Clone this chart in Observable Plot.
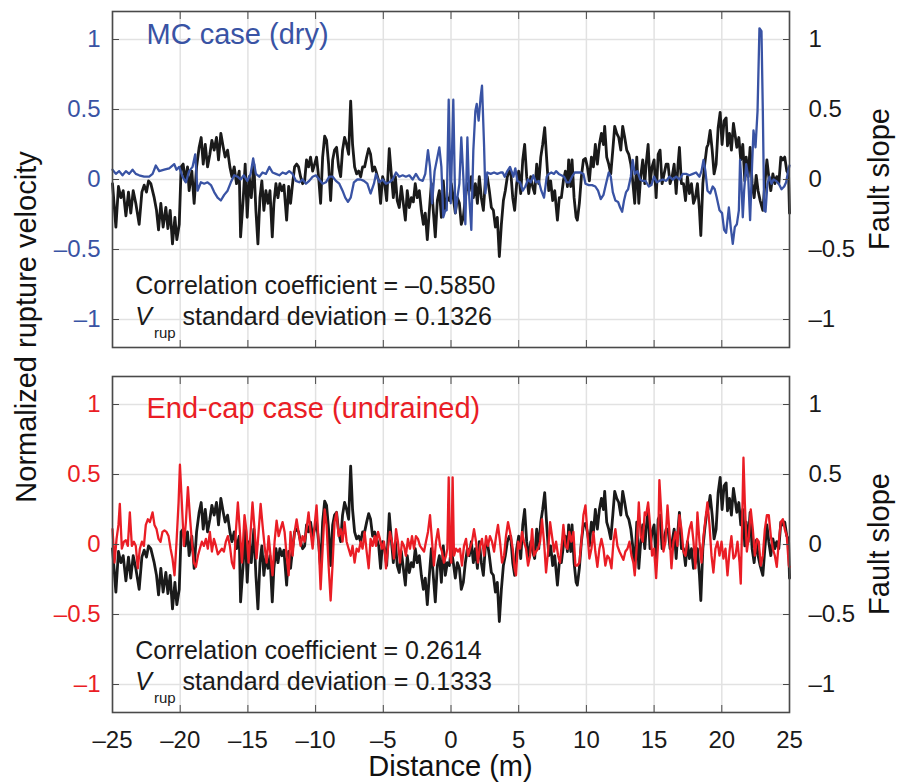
<!DOCTYPE html>
<html>
<head>
<meta charset="utf-8">
<script src="https://cdn.jsdelivr.net/npm/d3@7"></script>
<script src="https://cdn.jsdelivr.net/npm/@observablehq/plot@0.6"></script>
<style>
  body { margin: 0; background: #fff; }
  #fig { position: relative; width: 899px; height: 783px; font-family: "Liberation Sans", Arial, Helvetica, sans-serif; }
  #fig > svg { position: absolute; left: 0; }
</style>
</head>
<body>
<div id="fig"></div>
<script>
// Fault slope along strike (right axis, shared by both panels)
const faultSlope = [[-25.00,-0.03],[-24.75,-0.34],[-24.56,-0.05],[-24.38,-0.13],[-24.21,-0.08],[-24.01,-0.26],[-23.82,-0.09],[-23.65,-0.24],[-23.47,-0.08],[-23.28,-0.17],[-23.03,-0.32],[-22.83,-0.09],[-22.66,-0.04],[-22.49,-0.09],[-22.34,-0.01],[-22.17,-0.03],[-21.92,-0.13],[-21.75,-0.22],[-21.60,-0.36],[-21.43,-0.17],[-21.26,-0.34],[-21.06,-0.20],[-20.91,-0.35],[-20.74,-0.22],[-20.57,-0.46],[-20.39,-0.27],[-20.25,-0.43],[-20.07,-0.32],[-19.93,0.09],[-19.78,0.11],[-19.63,-0.01],[-19.46,0.09],[-19.34,-0.08],[-19.14,0.06],[-18.97,-0.17],[-18.79,0.09],[-18.60,0.23],[-18.45,0.30],[-18.30,0.11],[-18.15,0.25],[-17.98,0.09],[-17.81,0.18],[-17.66,0.28],[-17.49,0.21],[-17.32,0.30],[-17.17,0.14],[-17.00,0.33],[-16.82,0.23],[-16.68,0.16],[-16.50,0.21],[-16.33,0.09],[-16.18,0.02],[-16.01,0.09],[-15.84,-0.03],[-15.64,0.06],
[-15.54,-0.41],[-15.34,-0.13],[-15.20,0.11],[-15.05,-0.27],[-14.90,0.02],[-14.75,-0.13],[-14.56,0.11],[-14.41,-0.22],[-14.26,-0.46],[-14.11,-0.13],[-13.97,-0.01],[-13.82,-0.22],[-13.67,-0.08],[-13.52,-0.17],[-13.37,-0.08],[-13.20,-0.41],[-13.08,-0.17],[-12.93,-0.03],[-12.78,-0.13],[-12.64,-0.03],[-12.49,-0.08],[-12.34,-0.04],[-12.14,-0.29],[-11.99,-0.05],[-11.85,-0.17],[-11.70,-0.03],[-11.55,0.09],[-11.40,0.11],[-11.26,0.09],[-11.11,0.02],[-10.96,-0.03],[-10.81,-0.01],[-10.67,0.14],[-10.52,0.09],[-10.37,0.16],[-10.22,0.06],[-10.07,0.11],[-9.93,0.16],[-9.78,0.02],[-9.63,-0.17],[-9.48,0.16],[-9.33,0.31],[-9.19,0.28],[-9.04,0.11],[-8.89,-0.15],[-8.74,0.14],[-8.60,0.21],[-8.45,0.23],[-8.30,0.09],[-8.15,0.02],[-8.01,0.21],[-7.86,0.30],[-7.71,0.25],[-7.56,0.18],[-7.41,0.56],[-7.27,0.25],[-7.12,0.09],[-6.97,0.04],[-6.82,0.06],[-6.67,0.02],[-6.53,0.09],[-6.38,0.09],[-6.23,0.16],[-6.08,0.22],[-5.94,0.18],[-5.79,0.06],[-5.64,0.09],
[-5.54,0.06],[-5.34,-0.01],[-5.20,-0.17],[-5.05,0.02],[-4.90,-0.03],[-4.75,-0.15],[-4.56,0.22],[-4.41,0.04],[-4.26,-0.13],[-4.11,0.02],[-3.97,-0.15],[-3.82,-0.20],[-3.67,-0.05],[-3.52,-0.17],[-3.37,-0.29],[-3.23,-0.08],[-3.08,-0.20],[-2.93,-0.13],[-2.78,-0.16],[-2.64,-0.03],[-2.49,-0.13],[-2.34,-0.08],[-2.19,-0.22],[-2.04,-0.32],[-1.90,-0.24],[-1.75,-0.43],[-1.60,-0.22],[-1.45,-0.03],[-1.31,-0.22],[-1.16,-0.41],[-1.01,-0.15],[-0.86,-0.08],[-0.71,-0.27],[-0.57,-0.01],[-0.42,-0.22],[-0.27,-0.13],[-0.12,-0.15],[0.02,-0.03],[0.17,-0.13],[0.32,-0.24],[0.47,-0.13],[0.62,-0.17],[0.76,-0.32],[0.91,-0.27],[1.06,-0.13],[1.21,-0.03],[1.35,-0.08],[1.50,0.02],[1.65,-0.13],[1.80,-0.03],[1.95,-0.17],[2.09,0.02],[2.24,-0.13],[2.39,-0.22],[2.54,-0.01],[2.68,0.02],[2.83,-0.08],[2.98,-0.20],[3.13,-0.22],[3.28,-0.34],[3.42,-0.27],[3.57,-0.55],[3.72,-0.32],[3.87,-0.15],[4.01,-0.08],[4.16,0.02],[4.31,0.06],
[4.41,0.06],[4.56,-0.13],[4.70,-0.22],[4.85,-0.03],[5.00,0.06],[5.15,-0.10],[5.30,0.14],[5.44,0.25],[5.59,0.02],[5.74,-0.10],[5.89,0.02],[6.03,-0.05],[6.18,-0.10],[6.33,0.11],[6.48,-0.03],[6.63,0.16],[6.77,0.25],[6.92,0.37],[7.07,0.14],[7.22,-0.08],[7.36,-0.01],[7.51,-0.15],[7.66,-0.08],[7.86,-0.29],[8.00,-0.13],[8.15,-0.13],[8.30,-0.01],[8.45,0.06],[8.60,-0.05],[8.69,0.14],[8.84,-0.05],[8.94,0.14],[9.09,-0.13],[9.24,-0.27],[9.33,-0.29],[9.48,-0.17],[9.63,0.02],[9.78,0.14],[9.93,0.15],[10.07,0.09],[10.22,-0.01],[10.37,0.16],[10.52,0.09],[10.66,0.25],[10.81,0.11],[10.96,0.25],[11.11,0.33],[11.26,0.25],[11.35,0.38],[11.50,0.16],[11.65,0.11],[11.80,0.04],[11.95,0.21],[12.09,0.38],[12.24,0.33],[12.39,0.30],[12.54,0.21],[12.68,0.38],[12.83,0.30],[12.98,0.21],[13.13,0.18],[13.28,0.11],[13.42,-0.01],[13.57,-0.17],[13.72,0.16],[13.87,-0.17],[14.01,0.02],[14.16,0.14],[14.31,-0.03],
[14.41,0.11],[14.56,0.25],[14.70,-0.03],[14.85,0.09],[15.00,0.14],[15.15,-0.13],[15.30,0.18],[15.44,0.21],[15.59,-0.03],[15.74,0.04],[15.89,0.11],[16.03,0.11],[16.18,-0.03],[16.33,0.02],[16.48,0.11],[16.63,-0.10],[16.77,0.11],[16.87,0.23],[17.02,-0.03],[17.17,-0.03],[17.32,-0.15],[17.46,0.02],[17.61,-0.10],[17.76,-0.03],[17.91,-0.17],[18.05,-0.13],[18.20,-0.03],[18.35,-0.22],[18.45,-0.40],[18.60,-0.03],[18.74,0.11],[18.89,0.23],[18.99,0.25],[19.14,0.35],[19.29,0.21],[19.43,0.04],[19.58,0.11],[19.73,0.37],[19.88,0.48],[20.02,0.25],[20.17,0.42],[20.32,0.44],[20.42,0.24],[20.57,0.33],[20.71,0.21],[20.86,0.40],[21.01,0.30],[21.11,0.23],[21.26,0.30],[21.40,0.14],[21.55,0.25],[21.70,-0.01],[21.80,0.16],[21.95,0.02],[22.09,0.23],[22.24,-0.03],[22.39,-0.13],[22.54,0.03],[22.68,-0.08],[22.83,-0.15],[23.03,-0.22],[23.18,-0.03],[23.33,0.14],[23.47,0.02],[23.62,-0.08],[23.77,0.04],[23.92,-0.03],[24.06,0.02],[24.21,-0.03],[24.36,0.16],[24.51,0.14],[24.65,0.16],[24.80,0.06],[24.93,0.04],[25.00,-0.24]];

// Normalized rupture velocity, MC case (dry)
const mcCase = [[-25.00,0.07],[-24.75,0.04],[-24.51,0.06],[-24.26,0.03],[-24.01,0.06],[-23.77,0.04],[-23.52,0.07],[-23.28,0.04],[-23.03,0.03],[-22.66,0.02],[-22.29,0.02],[-22.04,0.04],[-21.80,0.10],[-21.55,0.06],[-21.18,0.07],[-20.81,0.08],[-20.44,0.11],[-20.27,0.07],[-20.07,0.09],[-19.83,0.02],[-19.58,-0.02],[-19.34,0.06],[-19.09,0.09],[-18.89,0.18],[-18.72,-0.08],[-18.47,-0.02],[-18.23,-0.03],[-17.98,-0.02],[-17.73,-0.04],[-17.49,-0.09],[-17.24,-0.13],[-17.00,-0.15],[-16.75,-0.11],[-16.50,-0.08],[-16.26,-0.02],[-16.01,0.03],[-15.76,0.02],
[-15.54,0.00],[-15.30,0.03],[-15.05,-0.01],[-14.80,0.04],[-14.61,0.15],[-14.41,0.04],[-14.16,0.02],[-13.92,0.05],[-13.67,0.04],[-13.42,0.09],[-13.18,0.05],[-12.93,0.04],[-12.68,0.03],[-12.44,0.05],[-12.19,0.04],[-11.95,0.06],[-11.70,0.04],[-11.45,-0.01],[-11.21,-0.02],[-10.96,0.00],[-10.71,-0.03],[-10.47,-0.01],[-10.22,0.02],[-9.98,0.03],[-9.73,0.00],[-9.48,-0.03],[-9.24,-0.02],[-8.99,0.02],[-8.74,0.02],[-8.50,-0.01],[-8.25,-0.03],[-8.01,-0.08],[-7.81,-0.13],[-7.61,-0.16],[-7.41,-0.13],[-7.17,-0.02],[-6.92,0.00],[-6.67,0.00],[-6.43,-0.01],[-6.18,-0.03],[-5.94,-0.10],[-5.69,-0.03],
[-5.54,0.04],[-5.30,-0.02],[-5.05,0.00],[-4.80,-0.03],[-4.56,-0.02],[-4.31,0.00],[-4.06,0.05],[-3.82,0.02],[-3.57,0.03],[-3.33,0.02],[-3.08,0.03],[-2.83,0.00],[-2.59,0.04],[-2.34,0.00],[-2.09,-0.01],[-1.90,0.04],[-1.70,0.21],[-1.55,0.09],[-1.40,-0.17],[-1.21,0.06],[-0.86,0.23],[-0.71,0.09],[-0.57,-0.27],[-0.42,-0.22],[-0.32,-0.22],[-0.17,0.57],[-0.02,-0.17],[0.17,0.57],[0.32,-0.24],[0.47,-0.13],[0.62,-0.03],[0.76,0.30],[0.91,0.02],[1.06,-0.32],[1.21,0.30],[1.35,-0.13],[1.50,-0.36],[1.65,0.21],[1.80,0.49],[1.90,0.54],[2.04,0.42],[2.19,0.59],[2.29,0.67],[2.44,0.25],[2.54,-0.10],[2.68,0.05],[2.93,0.04],[3.18,0.05],[3.42,0.04],[3.67,0.05],[3.82,0.05],[3.97,0.02],[4.16,0.06],[4.36,0.09],
[4.61,0.02],[4.75,0.08],[4.90,-0.01],[5.10,-0.02],[5.30,-0.08],[5.49,-0.05],[5.69,0.00],[5.89,-0.02],[6.08,0.03],[6.28,-0.02],[6.48,-0.01],[6.67,-0.08],[6.87,-0.13],[7.07,0.02],[7.22,0.04],[7.41,0.05],[7.61,0.04],[7.76,0.06],[7.96,0.04],[8.15,0.03],[8.35,0.02],[8.55,-0.02],[8.74,-0.02],[8.94,0.02],[9.14,0.05],[9.33,0.05],[9.58,0.05],[9.78,0.04],[9.93,-0.03],[10.17,-0.04],[10.42,-0.04],[10.66,-0.05],[10.86,-0.08],[11.06,-0.14],[11.26,-0.11],[11.45,-0.03],[11.65,0.05],[11.80,0.02],[11.95,-0.09],[12.14,-0.15],[12.34,-0.16],[12.49,-0.20],[12.64,-0.23],[12.78,-0.15],[12.93,-0.09],[13.08,-0.07],[13.28,0.02],[13.42,0.14],[13.57,0.04],[13.77,0.06],[13.97,0.00],[14.16,-0.01],[14.36,-0.01],
[14.61,-0.05],[14.80,-0.04],[15.00,0.02],[15.20,-0.02],[15.39,-0.01],[15.64,0.00],[15.89,-0.01],[16.13,0.02],[16.38,0.00],[16.63,0.02],[16.87,0.00],[17.12,0.04],[17.36,0.04],[17.61,0.03],[17.86,0.04],[18.10,0.05],[18.35,0.02],[18.50,0.06],[18.65,0.14],[18.79,0.06],[18.94,-0.08],[19.14,-0.10],[19.33,-0.05],[19.48,-0.07],[19.63,-0.13],[19.83,-0.22],[20.02,-0.24],[20.17,-0.36],[20.32,-0.38],[20.52,-0.20],[20.66,-0.34],[20.81,-0.46],[20.96,-0.34],[21.11,-0.32],[21.26,-0.22],[21.35,0.14],[21.45,-0.03],[21.55,-0.27],[21.65,-0.08],[21.80,0.11],[21.95,0.02],[22.09,-0.29],[22.24,0.11],[22.34,0.35],[22.49,0.23],[22.64,0.49],[22.78,1.08],[22.93,1.06],[23.03,0.49],[23.13,-0.22],[23.23,-0.23],[23.37,-0.03],[23.52,0.02],[23.67,-0.03],[23.82,0.00],[24.01,-0.01],[24.21,-0.03],[24.41,-0.07],[24.61,-0.05],[24.75,-0.02],[24.90,0.06],[25.00,0.10]];

// Normalized rupture velocity, end-cap case (undrained)
const endCap = [[-25.00,0.11],[-24.85,-0.13],[-24.70,0.04],[-24.56,0.14],[-24.46,0.29],[-24.31,-0.03],[-24.16,0.02],[-24.01,0.03],[-23.87,-0.01],[-23.72,0.23],[-23.57,-0.01],[-23.42,0.02],[-23.28,-0.01],[-23.13,-0.17],[-22.98,-0.03],[-22.83,0.02],[-22.68,-0.01],[-22.54,0.14],[-22.39,0.18],[-22.24,0.16],[-22.04,0.23],[-21.90,0.14],[-21.75,0.11],[-21.60,0.04],[-21.45,0.02],[-21.31,0.09],[-21.16,0.10],[-21.01,0.09],[-20.86,0.06],[-20.71,-0.03],[-20.57,-0.10],[-20.42,-0.22],[-20.27,0.02],[-20.12,0.30],[-20.02,0.57],[-19.88,0.30],[-19.73,-0.01],[-19.58,0.16],[-19.43,0.41],[-19.29,0.21],[-19.14,0.02],[-18.99,-0.13],[-18.84,-0.16],[-18.69,-0.08],[-18.55,-0.03],[-18.40,0.02],[-18.25,-0.01],[-18.10,0.04],[-17.96,-0.03],[-17.81,0.09],[-17.66,-0.05],[-17.51,0.04],[-17.36,-0.01],[-17.22,-0.07],[-17.07,-0.05],[-16.92,-0.03],[-16.77,-0.05],[-16.63,0.02],[-16.48,0.06],[-16.33,-0.01],[-16.18,-0.13],[-16.03,-0.17],[-15.89,0.09],[-15.74,0.30],[-15.59,0.09],[-15.44,-0.13],
[-15.25,0.21],[-15.10,0.09],[-14.95,-0.13],[-14.80,0.09],[-14.66,0.30],[-14.51,0.11],[-14.36,-0.10],[-14.21,0.09],[-14.06,0.29],[-13.92,0.14],[-13.77,-0.01],[-13.62,-0.13],[-13.47,0.06],[-13.33,-0.08],[-13.18,-0.22],[-13.03,0.02],[-12.88,0.17],[-12.73,0.06],[-12.59,0.11],[-12.44,0.16],[-12.29,0.09],[-12.14,-0.08],[-11.99,-0.22],[-11.85,0.09],[-11.70,-0.08],[-11.55,0.09],[-11.40,0.18],[-11.26,0.09],[-11.11,-0.01],[-10.96,0.06],[-10.81,0.02],[-10.67,0.11],[-10.52,0.23],[-10.37,0.09],[-10.22,-0.03],[-10.07,0.14],[-9.93,0.28],[-9.78,0.02],[-9.63,-0.32],[-9.48,-0.03],[-9.33,0.25],[-9.19,0.14],[-9.04,-0.15],[-8.89,-0.40],[-8.74,-0.13],[-8.60,0.16],[-8.45,0.23],[-8.30,0.06],[-8.15,0.11],[-8.01,0.02],[-7.86,0.16],[-7.71,0.02],[-7.56,-0.03],[-7.41,-0.08],[-7.27,-0.01],[-7.12,-0.13],[-6.97,-0.03],[-6.82,-0.05],[-6.67,0.02],[-6.53,-0.03],[-6.38,0.09],[-6.23,-0.05],[-6.08,-0.17],[-5.94,0.04],[-5.79,-0.01],[-5.64,0.06],
[-5.54,-0.01],[-5.39,0.09],[-5.25,0.04],[-5.10,-0.03],[-4.95,0.02],[-4.80,-0.17],[-4.66,-0.03],[-4.51,0.09],[-4.36,0.02],[-4.21,-0.10],[-4.06,0.11],[-3.92,0.02],[-3.77,-0.13],[-3.62,0.02],[-3.47,-0.01],[-3.33,-0.08],[-3.18,0.04],[-3.03,-0.03],[-2.88,0.06],[-2.73,-0.03],[-2.59,0.06],[-2.44,0.04],[-2.29,-0.01],[-2.14,-0.03],[-1.99,-0.05],[-1.85,0.02],[-1.70,0.09],[-1.55,0.21],[-1.40,0.02],[-1.26,-0.15],[-1.11,0.02],[-0.96,0.11],[-0.81,-0.01],[-0.67,-0.05],[-0.52,-0.13],[-0.37,-0.08],[-0.27,-0.03],[-0.17,0.48],[-0.07,-0.08],[0.02,-0.13],[0.12,0.48],[0.22,-0.08],[0.37,-0.03],[0.52,-0.05],[0.66,-0.03],[0.81,-0.15],[0.96,-0.01],[1.11,0.04],[1.26,-0.08],[1.40,-0.03],[1.55,0.02],[1.70,0.11],[1.85,0.02],[1.99,-0.13],[2.14,-0.01],[2.29,0.04],[2.44,-0.08],[2.59,0.06],[2.73,-0.01],[2.88,0.06],[3.03,0.02],[3.18,-0.05],[3.33,0.06],[3.47,0.14],[3.62,0.02],[3.77,-0.13],[3.92,-0.08],[4.06,0.06],[4.21,0.16],[4.36,0.09],
[4.56,-0.03],[4.70,-0.17],[4.80,-0.22],[4.95,0.02],[5.10,-0.03],[5.25,0.09],[5.39,0.02],[5.54,-0.03],[5.69,-0.15],[5.84,-0.08],[5.99,0.11],[6.13,-0.08],[6.28,-0.05],[6.43,-0.03],[6.58,0.02],[6.72,0.18],[6.87,0.02],[7.02,-0.20],[7.17,-0.05],[7.32,0.16],[7.46,0.06],[7.61,-0.05],[7.76,0.02],[7.91,-0.08],[8.05,-0.13],[8.20,0.02],[8.30,0.14],[8.45,-0.01],[8.60,-0.03],[8.74,0.09],[8.89,0.02],[9.04,0.09],[9.19,-0.15],[9.33,-0.15],[9.48,-0.13],[9.63,0.02],[9.78,0.21],[9.93,0.28],[10.07,0.09],[10.22,-0.10],[10.37,-0.03],[10.52,0.09],[10.66,-0.05],[10.81,-0.16],[10.96,-0.03],[11.11,0.04],[11.26,-0.03],[11.40,-0.15],[11.55,-0.08],[11.70,-0.10],[11.85,-0.17],[12.00,0.02],[12.14,0.11],[12.29,-0.01],[12.44,-0.05],[12.59,-0.08],[12.73,-0.11],[12.88,-0.05],[13.03,-0.03],[13.18,0.02],[13.33,-0.08],[13.47,-0.13],[13.57,-0.22],[13.72,-0.01],[13.87,0.30],[14.01,0.06],[14.16,0.02],[14.31,0.23],
[14.41,0.21],[14.56,0.30],[14.70,0.14],[14.85,-0.08],[15.00,-0.03],[15.15,-0.24],[15.30,0.02],[15.39,0.46],[15.54,0.21],[15.69,-0.05],[15.84,0.02],[15.99,0.28],[16.13,0.09],[16.28,-0.17],[16.43,0.02],[16.58,0.09],[16.72,-0.01],[16.87,0.21],[17.02,0.11],[17.17,-0.05],[17.32,-0.08],[17.46,0.02],[17.61,0.11],[17.76,0.16],[17.91,0.02],[18.05,-0.17],[18.20,0.23],[18.35,0.02],[18.50,-0.13],[18.65,0.06],[18.79,0.18],[18.94,0.30],[19.09,0.14],[19.24,-0.08],[19.38,-0.20],[19.53,-0.03],[19.68,0.02],[19.83,-0.08],[19.98,0.02],[20.12,-0.10],[20.27,-0.03],[20.42,-0.22],[20.57,-0.05],[20.71,0.06],[20.86,-0.10],[21.01,-0.08],[21.16,0.02],[21.31,-0.13],[21.40,-0.28],[21.50,0.14],[21.60,0.62],[21.70,0.30],[21.85,-0.05],[22.00,0.06],[22.14,0.25],[22.29,0.11],[22.44,-0.08],[22.59,0.04],[22.73,0.02],[22.88,-0.15],[23.03,-0.08],[23.18,0.11],[23.33,0.21],[23.47,0.21],[23.62,0.06],[23.77,-0.03],[23.92,-0.08],[24.06,-0.16],[24.21,0.02],[24.36,0.16],[24.51,0.18],[24.65,0.11],[24.80,0.06],[24.95,-0.15],[25.00,-0.16]];

// Axis ticks
const distanceTicks = [-25, -20, -15, -10, -5, 0, 5, 10, 15, 20, 25];
const valueTicks = [-1, -0.5, 0, 0.5, 1];

// Panel texts
const panelTitles = ["MC case (dry)", "End-cap case (undrained)"];
const panelColors = ["#3953a4", "#ea1d25"];
const correlations = ["\u20130.5850", "0.2614"];
const vrupStd = ["0.1326", "0.1333"];

const FONT = '"Liberation Sans", Arial, Helvetica, sans-serif';
const fmt = d => (d < 0 ? "\u2013" : "") + Math.abs(d);
const noLabel = () => "";
const GRID = "#e2e2e2";
const AXIS = "#4a4a4a";

function panel(i, {top, height, marginBottom, showDistance}) {
  const color = panelColors[i];
  const series = [faultSlope, i === 0 ? mcCase : endCap];
  const chart = Plot.plot({
    width: 899,
    height,
    marginLeft: 112,
    marginRight: 110,
    marginTop: 11,
    marginBottom,
    style: {fontFamily: FONT, fontSize: "24px", background: "transparent", overflow: "visible", color: "#1a1a1a"},
    x: {domain: [-25, 25]},
    y: {domain: [-1.2, 1.2]},
    marks: [
      Plot.gridX(distanceTicks, {stroke: GRID, strokeOpacity: 1, strokeWidth: 1.5}),
      Plot.gridY(valueTicks, {stroke: GRID, strokeOpacity: 1, strokeWidth: 1.5}),
      Plot.line(series[0], {x: d => d[0], y: d => d[1], stroke: "#1a1a1a", strokeWidth: 2.8, strokeLinejoin: "round"}),
      Plot.line(series[1], {x: d => d[0], y: d => d[1], stroke: color, strokeWidth: 2.3, strokeLinejoin: "round"}),
      Plot.frame({stroke: AXIS, strokeWidth: 1.6}),
      Plot.axisY(valueTicks, {anchor: "left", tickSize: -7, tickPadding: 19, tickFormat: fmt, fill: color, stroke: AXIS, label: null}),
      Plot.axisY(valueTicks, {anchor: "right", tickSize: -7, tickPadding: 26, tickFormat: fmt, fill: "#1a1a1a", stroke: AXIS, label: null}),
      Plot.axisX(distanceTicks, {anchor: "top", tickSize: -7, tickFormat: noLabel, stroke: AXIS, label: null}),
      Plot.axisX(distanceTicks, {anchor: "bottom", tickSize: -7, tickPadding: 25, tickFormat: showDistance ? fmt : noLabel, fill: "#1a1a1a", stroke: AXIS, label: null})
    ]
  });
  chart.style.top = top + "px";
  const x = chart.scale("x"), y = chart.scale("y");
  const svg = d3.select(chart);
  const notes = svg.append("g").attr("text-anchor", "start");

  // Panel title
  notes.append("text")
    .attr("x", x.apply(-22.45)).attr("y", y.apply(i === 0 ? 0.965 : 0.9))
    .attr("fill", color).attr("font-size", 29)
    .text(panelTitles[i]);

  // Statistics
  const ax = x.apply(-23.28);
  notes.append("text")
    .attr("x", ax).attr("y", y.apply(-0.82))
    .attr("fill", "#1a1a1a").attr("font-size", 25)
    .text("Correlation coefficient = " + correlations[i]);
  const t = notes.append("text")
    .attr("x", ax).attr("y", y.apply(-1.045))
    .attr("fill", "#1a1a1a").attr("font-size", 25);
  t.append("tspan").attr("font-style", "italic").text("V");
  t.append("tspan").attr("font-size", 15).attr("dy", 13).attr("dx", 2).text("rup");
  t.append("tspan").attr("dy", -13).text(" standard deviation = " + vrupStd[i]);

  // Right axis label
  svg.append("text")
    .attr("transform", `translate(889,${y.apply(0)}) rotate(-90)`)
    .attr("text-anchor", "middle").attr("fill", "#111").attr("font-size", 29)
    .text("Fault slope");

  if (showDistance) {
    svg.append("text")
      .attr("x", (112 + 789) / 2).attr("y", height - 7)
      .attr("text-anchor", "middle").attr("fill", "#111").attr("font-size", 29)
      .text("Distance (m)");
  }
  return chart;
}

const fig = document.getElementById("fig");
fig.append(panel(0, {top: 0, height: 365, marginBottom: 18, showDistance: false}));
fig.append(panel(1, {top: 365, height: 418, marginBottom: 71, showDistance: true}));

// Shared left axis label
const overlay = d3.select(fig).append("svg")
  .attr("width", 899).attr("height", 783)
  .style("top", "0px").style("pointer-events", "none")
  .style("font-family", FONT);
overlay.append("text")
  .attr("transform", "translate(36,327) rotate(-90)")
  .attr("text-anchor", "middle").attr("fill", "#111").attr("font-size", 29)
  .text("Normalized rupture velocity");
</script>
</body>
</html>
